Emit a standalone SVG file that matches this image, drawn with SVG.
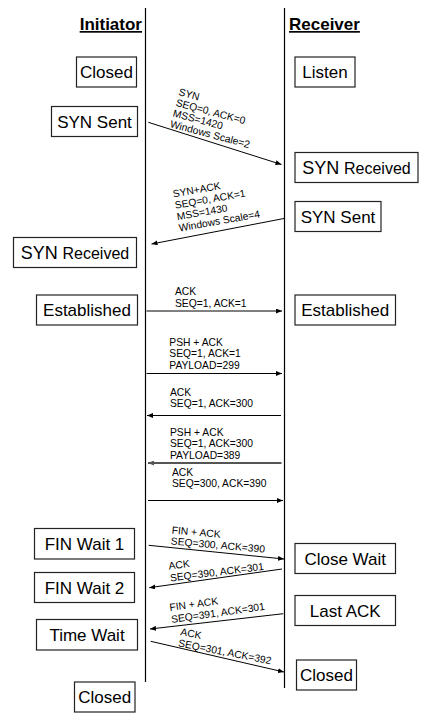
<svg xmlns="http://www.w3.org/2000/svg" width="434" height="723" viewBox="0 0 434 723">
<defs>
<marker id="ah" markerUnits="userSpaceOnUse" markerWidth="7" markerHeight="5" refX="6" refY="2.5" orient="auto">
<path d="M0,0 L6,2.5 L0,5 z" fill="#000"/>
</marker>
<marker id="ahg" markerUnits="userSpaceOnUse" markerWidth="7" markerHeight="5" refX="6" refY="2.5" orient="auto">
<path d="M0,0 L6,2.5 L0,5 z" fill="#555"/>
</marker>
<style>
.box{fill:#fff;stroke:#222;stroke-width:1.2}
.bt{font-family:"Liberation Sans",Arial,sans-serif;font-size:17px;fill:#000;text-anchor:middle}
.hd{font-family:"Liberation Sans",Arial,sans-serif;font-size:17px;font-weight:bold;fill:#000;text-decoration:underline}
.lb{font-family:"Liberation Sans",Arial,sans-serif;font-size:10.3px;fill:#000}
.life{stroke:#000;stroke-width:1.2;fill:none}
.msg{stroke:#000;stroke-width:1;fill:none;marker-end:url(#ah)}
.msgg{stroke:#555;stroke-width:2;fill:none;marker-end:url(#ahg)}
</style>
</defs>
<rect width="434" height="723" fill="#fff"/>

<g id="headers">
<text class="hd" x="142" y="30" text-anchor="end">Initiator</text>
<text class="hd" x="289" y="30">Receiver</text>
</g>

<g id="lifelines">
<line class="life" x1="145.5" y1="8" x2="145.5" y2="682"/>
<line class="life" x1="284.5" y1="8" x2="284.5" y2="688"/>
</g>

<g id="i-closed"><rect class="box" x="76.5" y="57" width="60" height="30"/><text class="bt" x="106.5" y="78">Closed</text></g>
<g id="r-listen"><rect class="box" x="295" y="57" width="60" height="30"/><text class="bt" x="325" y="78">Listen</text></g>
<g id="i-synsent"><rect class="box" x="51.5" y="106.5" width="86" height="30"/><text class="bt" x="94.5" y="127.5">SYN Sent</text></g>
<g id="r-synreceived"><rect class="box" x="295" y="152.5" width="123" height="30"/><text class="bt" x="356.5" y="173.5"><tspan font-size="18">SYN</tspan> <tspan font-size="16">Received</tspan></text></g>
<g id="r-synsent"><rect class="box" x="295" y="201.5" width="86" height="30"/><text class="bt" x="338" y="222.5">SYN Sent</text></g>
<g id="i-synreceived"><rect class="box" x="13.5" y="237.5" width="123" height="30"/><text class="bt" x="75" y="258.5"><tspan font-size="18">SYN</tspan> <tspan font-size="16">Received</tspan></text></g>
<g id="i-established"><rect class="box" x="36.5" y="295" width="101" height="30"/><text class="bt" x="87" y="316">Established</text></g>
<g id="r-established"><rect class="box" x="295" y="295" width="100.5" height="30"/><text class="bt" x="345.2" y="316">Established</text></g>
<g id="i-finwait1"><rect class="box" x="34.5" y="528.5" width="100" height="30.5"/><text class="bt" x="84.5" y="549.8">FIN Wait 1</text></g>
<g id="r-closewait"><rect class="box" x="295" y="543.5" width="100.5" height="30"/><text class="bt" x="345.2" y="564.5">Close Wait</text></g>
<g id="i-finwait2"><rect class="box" x="34.5" y="572.5" width="100" height="30"/><text class="bt" x="84.5" y="593.5">FIN Wait 2</text></g>
<g id="r-lastack"><rect class="box" x="295" y="595.5" width="100.5" height="30"/><text class="bt" x="345.2" y="616.5">Last ACK</text></g>
<g id="i-timewait"><rect class="box" x="36.5" y="619.5" width="101" height="30.5"/><text class="bt" x="87" y="640.8">Time Wait</text></g>
<g id="r-closed"><rect class="box" x="296.5" y="660" width="60" height="30"/><text class="bt" x="326.5" y="681">Closed</text></g>
<g id="i-closed2"><rect class="box" x="74.5" y="682" width="60.5" height="30"/><text class="bt" x="104.7" y="703">Closed</text></g>

<g id="connectors">
<line class="msg" x1="148.3" y1="122.3" x2="281.5" y2="164.5"/>
<line class="msg" x1="284" y1="218.5" x2="151.5" y2="244"/>
<line class="msg" x1="146.5" y1="311" x2="282" y2="311"/>
<line class="msg" x1="146.5" y1="373.5" x2="282" y2="373.5"/>
<line class="msg" x1="281" y1="415.5" x2="147" y2="415.5"/>
<line class="msgg" x1="281.5" y1="463" x2="148" y2="463"/>
<line class="msg" x1="148" y1="500.5" x2="283" y2="500.5"/>
<line class="msg" x1="148.7" y1="545.3" x2="284" y2="559"/>
<line class="msg" x1="282" y1="569" x2="149.3" y2="587.7"/>
<line class="msg" x1="283.3" y1="613.7" x2="150" y2="629"/>
<line class="msg" x1="150.7" y1="641.3" x2="284" y2="672"/>
</g>

<g id="labels">
<g transform="translate(178,95) rotate(15)">
<text class="lb" x="0" y="0">SYN</text>
<text class="lb" x="0" y="11">SEQ=0, ACK=0</text>
<text class="lb" x="0" y="22">MSS=1420</text>
<text class="lb" x="0" y="33">Windows Scale=2</text>
</g>
<g transform="translate(173.5,197.5) rotate(-10)">
<text class="lb" x="0" y="0">SYN+ACK</text>
<text class="lb" x="0" y="11.5">SEQ=0, ACK=1</text>
<text class="lb" x="0" y="23">MSS=1430</text>
<text class="lb" x="0" y="34.5">Windows Scale=4</text>
</g>
<text class="lb" x="175" y="295">ACK</text>
<text class="lb" x="175" y="306.7">SEQ=1, ACK=1</text>
<text class="lb" x="169.3" y="346">PSH + ACK</text>
<text class="lb" x="169.3" y="357.3">SEQ=1, ACK=1</text>
<text class="lb" x="169.3" y="368.7">PAYLOAD=299</text>
<text class="lb" x="170" y="395.7">ACK</text>
<text class="lb" x="170" y="407.3">SEQ=1, ACK=300</text>
<text class="lb" x="170" y="435.7">PSH + ACK</text>
<text class="lb" x="170" y="447.3">SEQ=1, ACK=300</text>
<text class="lb" x="170" y="459">PAYLOAD=389</text>
<text class="lb" x="172" y="475.7">ACK</text>
<text class="lb" x="172" y="487.3">SEQ=300, ACK=390</text>
<g transform="translate(171.5,533.5) rotate(5)">
<text class="lb" x="0" y="0">FIN + ACK</text>
<text class="lb" x="0" y="11">SEQ=300, ACK=390</text>
</g>
<g transform="translate(169,569.5) rotate(-7)">
<text class="lb" x="0" y="0">ACK</text>
<text class="lb" x="0" y="12">SEQ=390, ACK=301</text>
</g>
<g transform="translate(170,611) rotate(-8)">
<text class="lb" x="0" y="0">FIN + ACK</text>
<text class="lb" x="0" y="12">SEQ=391, ACK=301</text>
</g>
<g transform="translate(180,635) rotate(11)">
<text class="lb" x="0" y="0">ACK</text>
<text class="lb" x="0" y="11.5">SEQ=301, ACK=392</text>
</g>
</g>
</svg>
